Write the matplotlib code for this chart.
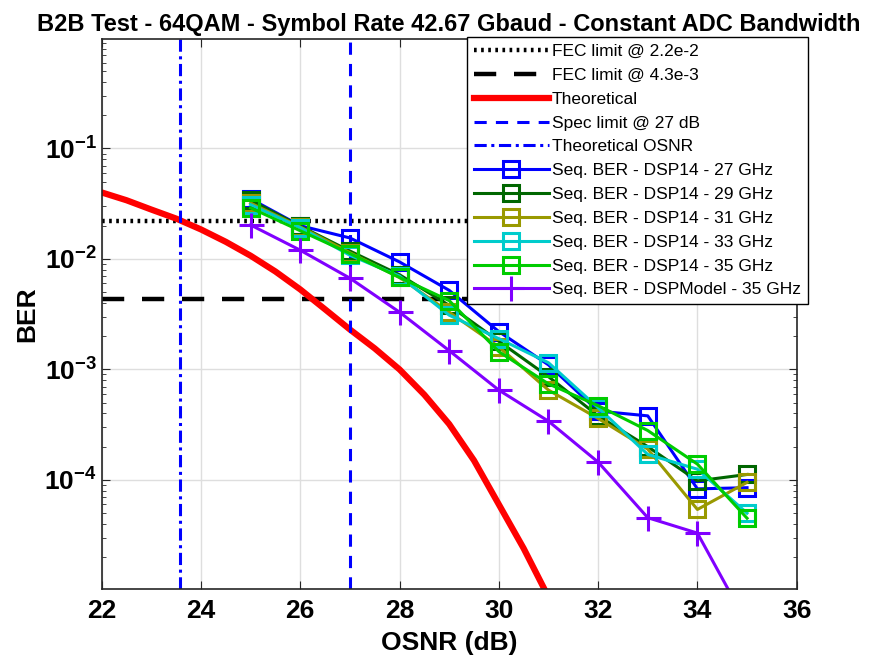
import matplotlib
matplotlib.use('Agg')
import matplotlib.pyplot as plt
import matplotlib.ticker as mticker
import numpy as np

# Data
osnr = [25, 26, 27, 28, 29, 30, 31, 32, 33, 34, 35]
ber_27 = [0.035, 0.0200, 0.0155, 0.0094, 0.0052, 0.0022, 1.10e-3, 4.2e-4, 3.8e-4, 8.3e-5, 8.5e-5]
ber_29 = [0.034, 0.0198, 0.0118, 0.0072, 0.0038, 0.0018, 8.6e-4, 3.8e-4, 2.0e-4, 9.8e-5, 1.12e-4]
ber_31 = [0.032, 0.0195, 0.0114, 0.0068, 0.0033, 0.0016, 6.5e-4, 3.6e-4, 1.9e-4, 5.4e-5, 9.5e-5]
ber_33 = [0.031, 0.0192, 0.0108, 0.0070, 0.0031, 0.0019, 1.15e-3, 4.5e-4, 1.7e-4, 1.25e-4, 5.0e-5]
ber_35 = [0.029, 0.0180, 0.0112, 0.0068, 0.0042, 0.00145, 7.4e-4, 4.7e-4, 2.8e-4, 1.39e-4, 4.5e-5]
ber_model = [0.0203, 0.0120, 0.0067, 0.0033, 0.00148, 6.5e-4, 3.4e-4, 1.45e-4, 4.55e-5, 3.3e-5, 5.0e-6]

theo_osnr = [22, 22.5, 23, 23.5, 24, 24.5, 25, 25.5, 26, 26.5, 27, 27.5, 28,
             28.5, 29, 29.5, 30, 30.5, 31]
theo_ber = [0.040, 0.034, 0.028, 0.0232, 0.0185, 0.0143, 0.0107, 0.0077, 0.0053,
            0.0035, 0.0023, 0.00155, 1.0e-3, 5.9e-4, 3.2e-4, 1.5e-4, 6.0e-5, 2.4e-5, 8.7e-6]

fec_hi = 2.2e-2
fec_lo = 4.3e-3
spec_osnr = 27
theo_limit_osnr = 23.58

series = [
    (ber_27, (0, 0, 1), 's', 'Seq. BER - DSP14 - 27 GHz'),
    (ber_29, (0, 0.4, 0), 's', 'Seq. BER - DSP14 - 29 GHz'),
    (ber_31, (0.6, 0.6, 0), 's', 'Seq. BER - DSP14 - 31 GHz'),
    (ber_33, (0, 0.8, 0.8), 's', 'Seq. BER - DSP14 - 33 GHz'),
    (ber_35, (0, 0.8, 0), 's', 'Seq. BER - DSP14 - 35 GHz'),
    (ber_model, (0.5, 0, 1), '+', 'Seq. BER - DSPModel - 35 GHz'),
]

plt.rcParams['font.family'] = ['Liberation Sans', 'DejaVu Sans']
plt.rcParams['mathtext.fontset'] = 'custom'
plt.rcParams['mathtext.bf'] = 'Liberation Sans:bold'
plt.rcParams['mathtext.rm'] = 'Liberation Sans'

fig = plt.figure(figsize=(8.81, 6.64), dpi=100)
ax = fig.add_axes([0.1154, 0.1130, 0.7889, 0.8283])

l1 = ax.axhline(fec_hi, color='k', ls=(0, (0.6, 1.0)), lw=3.2, label='FEC limit @ 2.2e-2')
l2 = ax.axhline(fec_lo, color='k', ls=(0, (5, 4)), lw=3.2, label='FEC limit @ 4.3e-3')
l3, = ax.plot(theo_osnr, theo_ber, color='r', lw=4.5, label='Theoretical')
l4 = ax.axvline(spec_osnr, color='b', ls=(0, (4, 3)), lw=2.2, label='Spec limit @ 27 dB')
l5 = ax.axvline(theo_limit_osnr, color='b', ls=(0, (4, 1.5, 1, 1.5)), lw=2.2,
                label='Theoretical OSNR')

handles = [l1, l2, l3, l4, l5]
for vals, col, mk, lab in series:
    if mk == 's':
        h, = ax.plot(osnr, vals, color=col, lw=2.2, marker='s', ms=12,
                     mfc='none', mew=2.2, label=lab)
    else:
        h, = ax.plot(osnr, vals, color=col, lw=2.2, marker='+', ms=18,
                     mew=2.2, label=lab)
    handles.append(h)

ax.set_yscale('log')
ax.set_xlim(22, 36)
ax.set_ylim(1.03e-5, 0.98)
ax.set_xticks(np.arange(22, 37, 2))
ax.yaxis.set_major_locator(mticker.LogLocator(base=10, numticks=10))
ax.yaxis.set_minor_locator(mticker.LogLocator(base=10, subs=np.arange(2, 10), numticks=10))
ax.yaxis.set_major_formatter(mticker.FuncFormatter(
    lambda v, p: r'$\mathbf{10^{%d}}$' % int(round(np.log10(v)))))
ax.yaxis.set_minor_formatter(mticker.NullFormatter())

ax.grid(True, which='major', color=(0.87, 0.87, 0.87), lw=1)
ax.tick_params(which='both', direction='in', top=True, right=True, colors=(0.15, 0.15, 0.15))
ax.tick_params(which='major', length=6, labelsize=19, labelcolor='k')
ax.tick_params(axis='x', pad=7)
ax.tick_params(which='minor', length=3)
for lab in ax.get_xticklabels():
    lab.set_fontweight('bold')
for sp in ax.spines.values():
    sp.set_color((0.15, 0.15, 0.15))
    sp.set_linewidth(1.2)

ax.set_xlabel('OSNR (dB)', fontsize=19, fontweight='bold', labelpad=6)
ax.set_ylabel('BER', fontsize=19, fontweight='bold', labelpad=4)
ax.set_title('B2B Test - 64QAM - Symbol Rate 42.67 Gbaud - Constant ADC Bandwidth',
             fontsize=17, fontweight='bold', pad=6)

leg = ax.legend(handles=handles, loc='upper right', bbox_to_anchor=(808 / 881, 1 - 37 / 664),
                bbox_transform=fig.transFigure, fontsize=12.5, frameon=True, fancybox=False,
                edgecolor='k', framealpha=1, handlelength=4.3, handletextpad=0.2,
                labelspacing=0.5, borderpad=0.4, borderaxespad=0)
leg.get_frame().set_linewidth(1.0)

fig.savefig('out.png', dpi=100)
